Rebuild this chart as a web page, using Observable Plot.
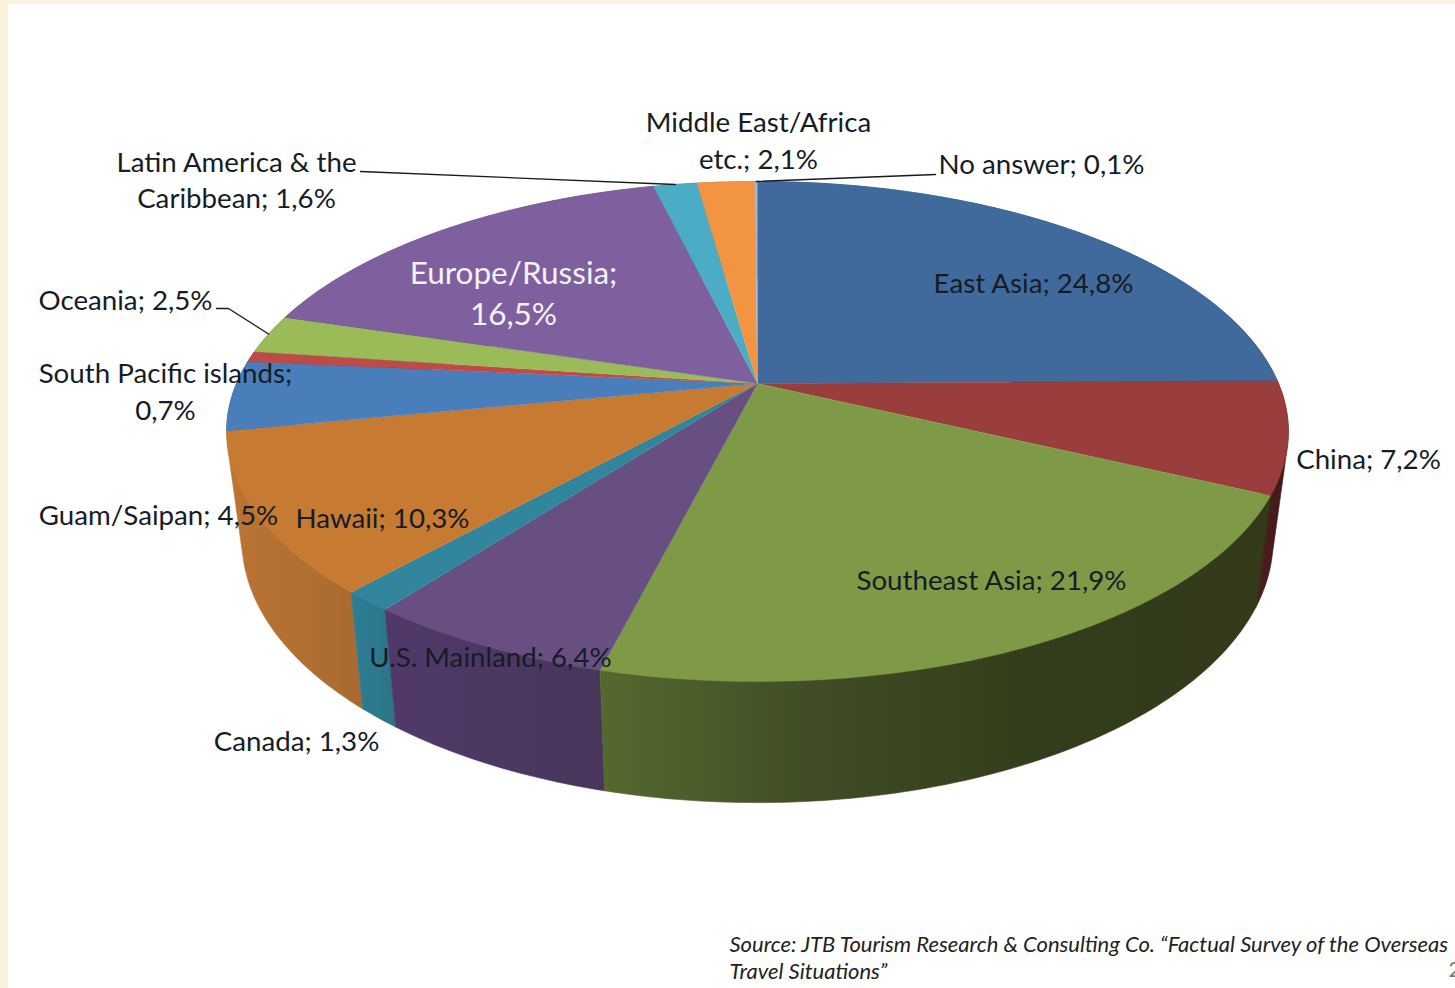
<!DOCTYPE html>
<html>
<head>
<meta charset="utf-8">
<script src="https://cdn.jsdelivr.net/npm/d3@7"></script>
<script src="https://cdn.jsdelivr.net/npm/@observablehq/plot@0.6"></script>
<style>
  html, body { margin: 0; padding: 0; background: #fbf2de; overflow: hidden; }
  #chart { position: absolute; left: 8px; top: 4px; width: 1447px; height: 984px; overflow: hidden; background: #fff; }
  #chart svg { display: block; }
</style>
</head>
<body>
<div id="chart"></div>
<script>
// Overseas destinations, share of answers (%), clockwise from twelve o'clock.
const regions = ["East Asia", "China", "Southeast Asia", "U.S. Mainland", "Canada", "Hawaii",
  "Guam/Saipan", "South Pacific islands", "Oceania", "Europe/Russia",
  "Latin America & the Caribbean", "Middle East/Africa etc.", "No answer"];
const shares = [24.8, 7.2, 21.9, 6.4, 1.3, 10.3, 4.5, 0.7, 2.5, 16.5, 1.6, 2.1, 0.1];
const topColors = ["#3f6a9b", "#993e3c", "#7f9a47", "#674f82", "#31859c", "#c67a32",
  "#4a7ebb", "#be4b48", "#9bbb59", "#7f609e", "#4bacc6", "#f39442", "#a9b8cc"];
// Side wall shading, left to right across the rim of each slice.
const wallShades = [
  ["#2a4668", "#2a4668"], ["#4e1e1e", "#431818"], ["#55692f", "#3f4c24", "#333c1b", "#323a1a"],
  ["#50396a", "#48365b"], ["#2d7e94", "#2b7488"], ["#bb7534", "#a96a2f"],
  ["#345a87", "#345a87"], ["#8a3533", "#8a3533"], ["#6f8741", "#6f8741"], ["#5b4572", "#5b4572"],
  ["#367c8f", "#367c8f"], ["#b36c32", "#b36c32"], ["#7a8594", "#7a8594"]];

// Label wording: regions whose label wraps, and the first line of each.
const firstLines = new Map([
  ["South Pacific islands", "South Pacific islands;"],
  ["Europe/Russia", "Europe/Russia;"],
  ["Latin America & the Caribbean", "Latin America & the"],
  ["Middle East/Africa etc.", "Middle East/Africa"]]);
const sourceLines = ["Source: JTB Tourism Research & Consulting Co. “Factual Survey of the Overseas", "Travel Situations”"];

// Canvas layout: the disc is a perspective view, so its centre sits above the ellipse centre.
const disc = {cx: 757, cy: 383, rx: 521, ry: 240.8, tilt: 0.192};
const base = {cx: 757, cy: 489, rx: 506, ry: 253, tilt: 0.192};
const labelFont = 27.7;
const largeLabelFont = 31.5;

// Label line centres, in reading order of regions and lines.
const labelCentres = [
  [1033, 284], [1368, 460], [991, 581], [490, 658], [296, 742], [382, 519], [158, 516],
  [165, 374], [165, 411], [125, 301], [513, 273], [513, 314], [236, 163], [236, 199],
  [758, 123], [758, 160], [1041, 165]];
const largeLabels = new Set(["Europe/Russia"]);

// Leader lines run from the label to the rim of the slice they name.
const leaders = [
  {region: "Latin America & the Caribbean", from: [[360, 171]]},
  {region: "Oceania", from: [[216, 308], [228, 308]]},
  {region: "No answer", from: [[935, 174]]}];

const total = d3.sum(shares);
const cumulative = d3.cumsum(shares);

// Point on the rim (or at the centre) of a projected disc for a fraction of the full turn.
function project(plane, turn, radius = 1) {
  const a = turn * 2 * Math.PI;
  const u = radius * Math.sin(a), v = -radius * Math.cos(a);
  const d = 1 - plane.tilt * v;
  return {x: plane.cx + plane.rx * u / d, y: plane.cy + plane.ry * v / d};
}
function arc(plane, from, to) {
  const n = Math.max(2, Math.ceil((to - from) * 360));
  return d3.range(n + 1).map(i => project(plane, from + (to - from) * i / n));
}
// Outline of the extruded side: the hull of both rims follows the silhouette of the solid,
// and the disc drawn over it hides whatever the hull spans across the top.
function wallOutline(from, to) {
  const rims = [...arc(disc, from, to), ...arc(base, from, to)].map(p => [p.x, p.y]);
  const hull = d3.polygonHull(rims);
  return [...hull, hull[0]].map(([x, y]) => ({x, y}));
}

const slices = regions.map((region, i) => {
  const to = cumulative[i] / total, from = to - shares[i] / total;
  return {
    region, i, from, to,
    mid: (from + to) / 2,
    top: [project(disc, 0, 0), ...arc(disc, from, to)],
    wall: wallOutline(from, to)
  };
});

const percent = v => v.toFixed(1).replace(".", ",") + "%";
const labelRows = [];
slices.forEach((s, i) => {
  const value = percent(shares[i]);
  const first = firstLines.get(s.region);
  if (first) {
    const second = first.endsWith(";") ? value
      : s.region.slice(first.length).trim() + "; " + value;
    labelRows.push({region: s.region, text: first}, {region: s.region, text: second});
  } else {
    labelRows.push({region: s.region, text: `${s.region}; ${value}`});
  }
});
labelRows.forEach((row, i) => { [row.x, row.y] = labelCentres[i]; });
const isLarge = d => largeLabels.has(d.region);

// Back-facing walls first, so the near ones overlap them along the silhouette.
const wallOrder = d3.sort(slices, s => -Math.cos(s.mid * 2 * Math.PI));

const labelStyle = {
  x: "x", y: "y", text: "text", textAnchor: "middle", lineAnchor: "middle", fontFamily: "Lato"
};

const marks = [
  ...wallOrder.map(s => Plot.line(s.wall, {
    x: "x", y: "y", fill: `url(#wall-${s.i})`, stroke: `url(#wall-${s.i})`, strokeWidth: 0.6
  })),
  ...slices.map(s => Plot.line(s.top, {
    x: "x", y: "y", fill: topColors[s.i], stroke: topColors[s.i], strokeWidth: 0.5
  })),
  ...leaders.map(l => {
    const s = slices.find(d => d.region === l.region);
    const points = [...l.from.map(([x, y]) => ({x, y})), project(disc, s.mid)];
    return Plot.line(points, {x: "x", y: "y", stroke: "#1a1a1a", strokeWidth: 1.3});
  }),
  Plot.text(labelRows.filter(d => !isLarge(d)), {...labelStyle, fontSize: labelFont, fill: "#161c26"}),
  Plot.text(labelRows.filter(isLarge), {...labelStyle, fontSize: largeLabelFont, fill: "#f4f1f7"}),
  Plot.text(sourceLines, {
    x: () => 729, y: (d, i) => 944 + i * 27, text: d => d, textAnchor: "start", lineAnchor: "middle",
    fontSize: 22, fontStyle: "italic", fontFamily: "Lato", fill: "#222"
  }),
  Plot.text(["2"], {
    x: () => 1448, y: () => 970, text: d => d, textAnchor: "start", lineAnchor: "middle",
    fontSize: 21, fontFamily: "Lato", fill: "#777"
  })
];

const chart = Plot.plot({
  width: 1447, height: 984,
  margin: 0,
  x: {domain: [8, 1455], range: [0, 1447], axis: null},
  y: {domain: [4, 988], range: [0, 984], axis: null},
  style: {background: "transparent"},
  marks
});

// Horizontal shading ramps for the side walls, spanning each slice's own rim.
const defs = d3.select(chart).insert("defs", ":first-child");
slices.forEach(s => {
  const xs = s.wall.map(p => p.x);
  const g = defs.append("linearGradient")
    .attr("id", `wall-${s.i}`).attr("gradientUnits", "userSpaceOnUse")
    .attr("x1", d3.min(xs) - 8).attr("x2", d3.max(xs) - 8).attr("y1", 0).attr("y2", 0);
  const ramp = wallShades[s.i];
  ramp.forEach((c, k) => g.append("stop").attr("offset", k / (ramp.length - 1)).attr("stop-color", c));
});

document.getElementById("chart").append(chart);
</script>
</body>
</html>
